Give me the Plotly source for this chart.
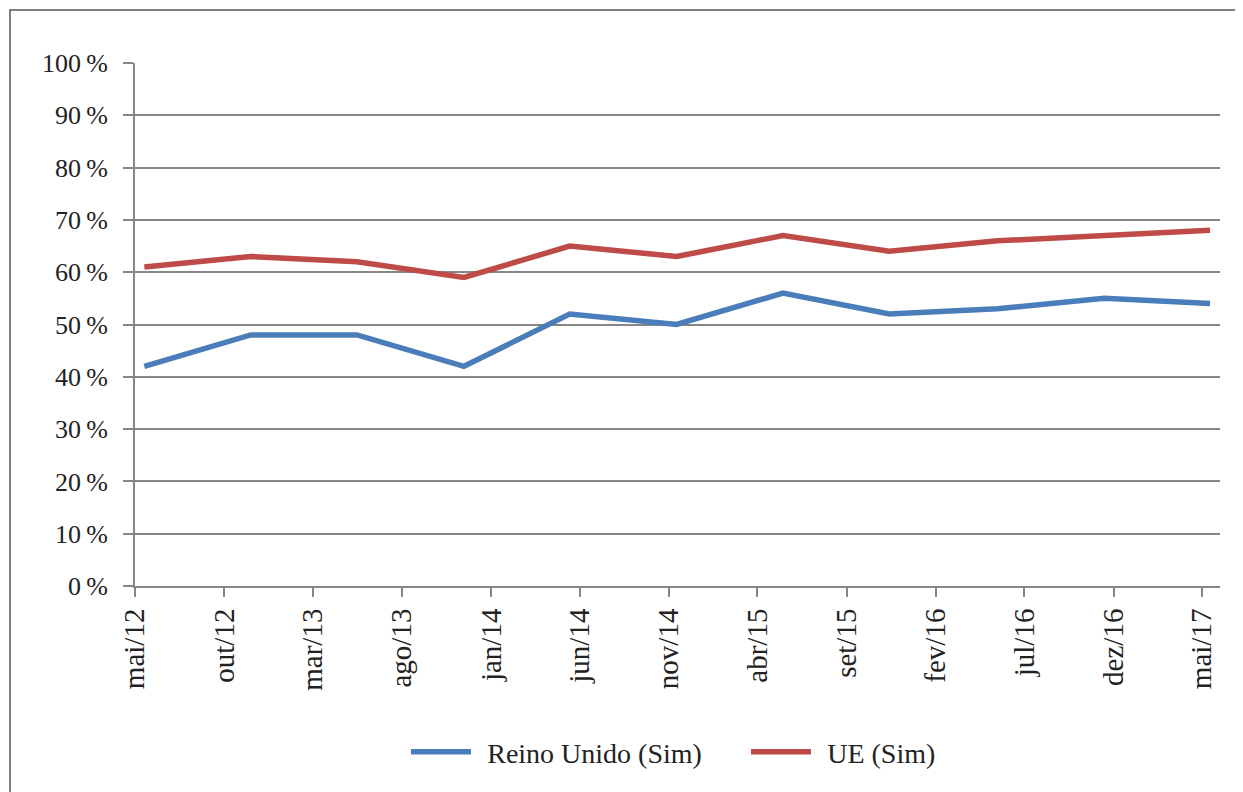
import plotly.graph_objects as go

dates = ["2012-05-17", "2012-11-15", "2013-05-16", "2013-11-15", "2014-05-15",
         "2014-11-14", "2015-05-15", "2015-11-13", "2016-05-16", "2016-11-15", "2017-05-15"]
reino_unido = [42, 48, 48, 42, 52, 50, 56, 52, 53, 55, 54]
ue = [61, 63, 62, 59, 65, 63, 67, 64, 66, 67, 68]

x_tick_vals = ["2012-05-01", "2012-10-01", "2013-03-01", "2013-08-01", "2014-01-01",
               "2014-06-01", "2014-11-01", "2015-04-01", "2015-09-01", "2016-02-01",
               "2016-07-01", "2016-12-01", "2017-05-01"]
x_tick_text = ["mai/12", "out/12", "mar/13", "ago/13", "jan/14", "jun/14", "nov/14",
               "abr/15", "set/15", "fev/16", "jul/16", "dez/16", "mai/17"]
y_tick_vals = [0, 10, 20, 30, 40, 50, 60, 70, 80, 90, 100]
y_tick_text = [f"{v}\u2009%" for v in y_tick_vals]

FONT = "Liberation Serif"
GRID = "#868686"
TXT = "#222222"
PAD = "\u2009\u2009"

fig = go.Figure()
fig.add_trace(go.Scatter(x=dates, y=reino_unido, mode="lines", name=PAD + "Reino Unido (Sim)",
                         line=dict(color="#4A7EBB", width=5.5)))
fig.add_trace(go.Scatter(x=dates, y=ue, mode="lines", name=PAD + "UE (Sim)",
                         line=dict(color="#BE4B48", width=5.5)))

OFF = 8  # page body margin
W, H = 1243 - OFF, 792 - OFF
L, R, T, B = 135 - OFF, 1220 - OFF, 63 - OFF, 586 - OFF
pw, ph = R - L, B - T

def px_x(p):
    return (p - OFF - L) / pw

def px_y(p):
    return (B - (p - OFF)) / ph

fig.update_layout(
    width=W, height=H,
    margin=dict(l=L, r=W - R, t=T, b=H - B, autoexpand=False),
    paper_bgcolor="white", plot_bgcolor="white",
    font=dict(family=FONT, size=26, color=TXT),
    showlegend=True,
    legend=dict(orientation="h", x=px_x(406), xanchor="left", y=px_y(752), yanchor="middle",
                font=dict(family=FONT, size=28, color=TXT),
                itemwidth=60, entrywidth=265, entrywidthmode="pixels", tracegroupgap=0),
    xaxis=dict(type="date", range=["2012-05-01", "2017-06-01"],
               tickmode="array", tickvals=x_tick_vals, ticktext=x_tick_text,
               tickangle=-90, ticks="outside", ticklen=9, tickcolor=GRID, tickwidth=2,
               showline=True, linecolor=GRID, linewidth=2, showgrid=False,
               zeroline=False, fixedrange=True, ticklabelstandoff=0,
               tickfont=dict(family=FONT, size=29, color=TXT)),
    yaxis=dict(range=[0, 100], tickmode="array", tickvals=y_tick_vals, ticktext=y_tick_text,
               ticks="outside", ticklen=10, tickcolor=GRID, tickwidth=2,
               showline=True, linecolor=GRID, linewidth=2, ticklabelstandoff=10,
               showgrid=True, gridcolor=GRID, gridwidth=2, zeroline=False,
               tickfont=dict(family=FONT, size=26, color=TXT)),
    shapes=[dict(type="rect", xref="paper", yref="paper",
                 x0=px_x(10), x1=px_x(1260), y0=px_y(810), y1=px_y(10),
                 line=dict(color="#555555", width=1.5), layer="below")],
)

fig.write_html("out.html")
